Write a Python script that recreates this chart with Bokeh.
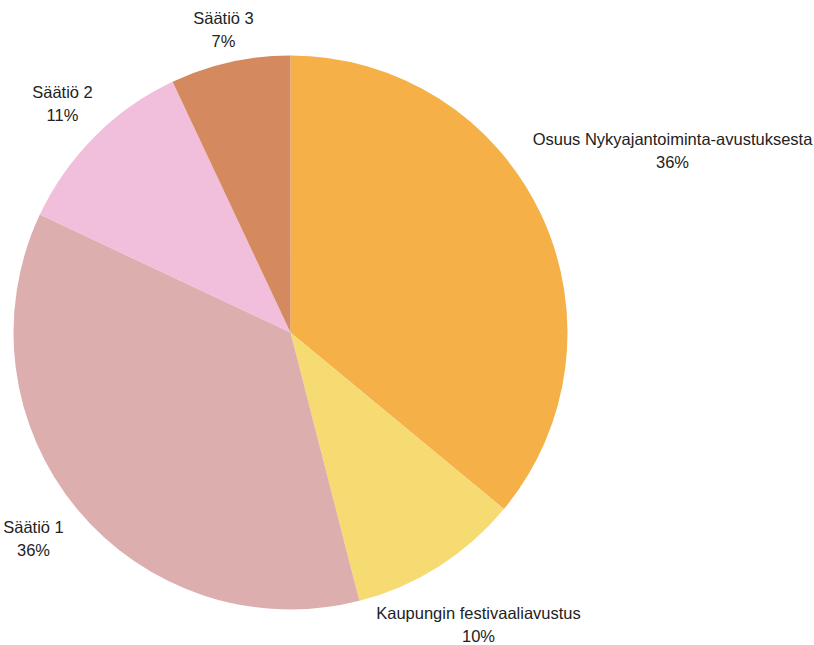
import math
from bokeh.plotting import figure
from bokeh.models import ColumnDataSource, Range1d
from bokeh.core.properties import value
from bokeh.embed import file_html
from bokeh.resources import INLINE

# Data
categories = ["Osuus Nykyajantoiminta-avustuksesta", "Kaupungin festivaaliavustus",
              "Säätiö 1", "Säätiö 2", "Säätiö 3"]
shares = [36, 10, 36, 11, 7]
colors = ["#F5B048", "#F6DA72", "#DDAEAE", "#F1BEDC", "#D4895F"]

# Layout (pixels)
W, H = 814, 645
cx, cy = 290, H - 332
R = 277
# label anchor offsets from the pie centre (screen dx, dy; y down)
label_offsets = [(382, -182), (188, 292), (-257, 206), (-228, -229), (-67, -303)]

total = sum(shares)
starts, ends = [], []
cum = 0
for v in shares:
    starts.append(math.pi / 2 - 2 * math.pi * cum / total)
    cum += v
    ends.append(math.pi / 2 - 2 * math.pi * cum / total)

src = ColumnDataSource(dict(x=[cx] * len(shares), y=[cy] * len(shares),
                            start=starts, end=ends, color=colors))

p = figure(width=W, height=H, output_backend="svg", toolbar_location=None,
           x_range=Range1d(0, W), y_range=Range1d(0, H), min_border=0)
p.axis.visible = False
p.grid.visible = False
p.outline_line_color = None
p.background_fill_color = "white"

p.wedge(x="x", y="y", radius=R, start_angle="start", end_angle="end",
        direction="clock", fill_color="color", line_color=None, source=src)

lx = [cx + dx for dx, dy in label_offsets]
ly = [cy - dy for dx, dy in label_offsets]
names_src = ColumnDataSource(dict(x=lx, y=[v + 12 for v in ly], t=categories))
pct_src = ColumnDataSource(dict(x=lx, y=[v - 11 for v in ly], t=[f"{s}%" for s in shares]))
for s in (names_src, pct_src):
    p.text(x="x", y="y", text="t", source=s, text_font=value("Liberation Sans"),
           text_font_size="16.5px", text_color="#222222", text_align="center",
           text_baseline="middle")

open("out.html", "w").write(file_html(p, INLINE))
